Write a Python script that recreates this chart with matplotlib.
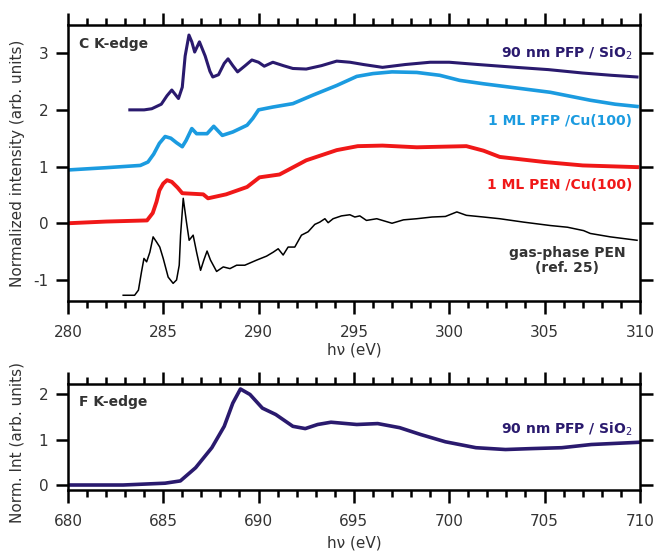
import matplotlib.pyplot as plt
from matplotlib.ticker import MultipleLocator

plt.rcParams['axes.unicode_minus'] = False

# C K-edge spectra (eV, normalized intensity)
pfp_sio2_x = [283.25, 284.0, 284.4, 284.9, 285.2, 285.45, 285.8, 286.0, 286.15, 286.35, 286.5, 286.65,
              286.9, 287.2, 287.45, 287.6, 287.9, 288.2, 288.4, 288.65, 288.9, 289.3, 289.65,
              290.0, 290.3, 290.75, 291.3, 291.8, 292.5, 293.3, 294.1, 294.8, 295.5,
              296.5, 297.7, 299.0, 300.0, 301.5, 303.5, 305.2, 307.0, 308.5, 309.85]
pfp_sio2_y = [2.0, 2.0, 2.02, 2.1, 2.25, 2.35, 2.2, 2.4, 2.95, 3.32, 3.2, 3.02,
              3.2, 2.95, 2.68, 2.58, 2.62, 2.82, 2.9, 2.78, 2.67, 2.78, 2.88,
              2.84, 2.77, 2.84, 2.78, 2.73, 2.72, 2.78, 2.86, 2.84, 2.8,
              2.75, 2.8, 2.84, 2.84, 2.8, 2.75, 2.71, 2.65, 2.61, 2.58]

pfp_cu_x = [280.0, 282.0, 283.8, 284.2, 284.5, 284.8, 285.1, 285.4, 285.7, 286.0, 286.2, 286.5,
            286.75, 287.3, 287.65, 288.1, 288.65, 289.4, 289.7, 290.0, 290.75, 291.8, 292.85,
            294.1, 295.15, 296.0, 297.0, 298.3, 299.5, 300.55, 301.8, 303.2, 305.3, 307.4,
            308.7, 309.85]
pfp_cu_y = [0.94, 0.98, 1.02, 1.08, 1.22, 1.41, 1.53, 1.5, 1.42, 1.35, 1.46, 1.67,
            1.58, 1.58, 1.71, 1.55, 1.61, 1.73, 1.85, 2.0, 2.05, 2.11, 2.26,
            2.43, 2.59, 2.64, 2.67, 2.66, 2.61, 2.52, 2.46, 2.4, 2.31, 2.17,
            2.1, 2.06]

pen_cu_x = [280.0, 282.0, 284.15, 284.45, 284.65, 284.8, 285.0, 285.2, 285.45, 285.75, 286.0,
            287.1, 287.35, 288.3, 289.4, 290.05, 291.1, 292.5, 294.1, 295.2, 296.5, 298.3,
            300.9, 301.8, 302.65, 305.0, 307.0, 309.85]
pen_cu_y = [0.0, 0.03, 0.05, 0.18, 0.38, 0.58, 0.7, 0.76, 0.73, 0.63, 0.53,
            0.51, 0.44, 0.51, 0.64, 0.81, 0.86, 1.11, 1.29, 1.36, 1.37, 1.34,
            1.36, 1.28, 1.17, 1.08, 1.02, 0.99]

gas_x = [282.9, 283.5, 283.7, 283.86, 283.99, 284.13, 284.3, 284.47, 284.65, 284.82, 285.0,
         285.26, 285.52, 285.7, 285.84, 285.91, 286.05, 286.22, 286.36, 286.57, 286.75, 286.96,
         287.13, 287.3, 287.48, 287.8, 288.15, 288.5, 288.85, 289.28, 289.9, 290.42, 290.77,
         291.03, 291.29, 291.55, 291.9, 292.25, 292.6, 292.95, 293.21, 293.48, 293.65, 293.91,
         294.35, 294.79, 295.05, 295.31, 295.66, 296.2, 297.0, 297.6, 298.3, 299.1, 299.8,
         300.4, 300.9, 301.8, 302.65, 303.9, 305.3, 306.2, 307.05, 307.4, 308.45, 309.85]
gas_y = [-1.27, -1.27, -1.18, -0.86, -0.62, -0.68, -0.51, -0.24, -0.33, -0.42, -0.62,
         -0.95, -1.06, -1.0, -0.74, -0.21, 0.44, 0.02, -0.3, -0.21, -0.51, -0.83,
         -0.65, -0.49, -0.65, -0.85, -0.77, -0.8, -0.74, -0.74, -0.65, -0.58, -0.51,
         -0.45, -0.56, -0.42, -0.42, -0.21, -0.15, -0.02, 0.02, 0.08, 0.01, 0.08,
         0.13, 0.15, 0.11, 0.13, 0.05, 0.08, 0.0, 0.06, 0.08, 0.11, 0.12,
         0.2, 0.14, 0.11, 0.08, 0.02, -0.04, -0.07, -0.13, -0.18, -0.24, -0.3]

# F K-edge spectrum
f_x = [680.0, 682.9, 685.1, 685.9, 686.7, 687.55, 688.2, 688.65, 689.05, 689.55, 690.2, 690.9,
       691.8, 692.45, 693.1, 693.8, 695.15, 696.25, 697.4, 698.5, 699.8, 701.4, 702.95, 704.3,
       705.9, 707.45, 710.0]
f_y = [0.0, 0.0, 0.04, 0.09, 0.38, 0.82, 1.29, 1.8, 2.11, 1.99, 1.69, 1.55,
       1.29, 1.24, 1.33, 1.38, 1.33, 1.35, 1.26, 1.11, 0.95, 0.82, 0.78, 0.80,
       0.82, 0.89, 0.94]

navy = '#2a1a6e'
sky = '#1b9be0'
red = '#f01818'
txt = '#333333'

fig = plt.figure(figsize=(6.59, 5.53), dpi=100)
ax1 = fig.add_axes([0.103, 0.4548, 0.868, 0.500])
ax2 = fig.add_axes([0.103, 0.1139, 0.868, 0.1917])

ax1.plot(pfp_sio2_x, pfp_sio2_y, color=navy, lw=2.2)
ax1.plot(pfp_cu_x, pfp_cu_y, color=sky, lw=2.6)
ax1.plot(pen_cu_x, pen_cu_y, color=red, lw=2.8)
ax1.plot(gas_x, gas_y, color='black', lw=1.1)
ax2.plot(f_x, f_y, color=navy, lw=2.6)

ax1.set_xlim(280, 310)
ax1.set_ylim(-1.38, 3.497)
ax2.set_xlim(680, 710)
ax2.set_ylim(-0.11, 2.22)

for ax in (ax1, ax2):
    ax.xaxis.set_major_locator(MultipleLocator(5))
    ax.xaxis.set_minor_locator(MultipleLocator(1))
    ax.yaxis.set_major_locator(MultipleLocator(1))
    ax.tick_params(which='both', direction='out', top=True, right=True,
                   width=1.8, colors='black', labelcolor=txt, labelsize=11)
    ax.tick_params(which='major', length=9, pad=5)
    ax.tick_params(which='minor', length=5)
    ax.tick_params(axis='x', which='major', pad=8)
    for s in ax.spines.values():
        s.set_linewidth(1.8)

ax1.set_xlabel('hν (eV)', fontsize=11, color=txt, labelpad=2)
ax2.set_xlabel('hν (eV)', fontsize=11, color=txt, labelpad=5)
ax1.set_ylabel('Normalized intensity (arb. units)', fontsize=11, color=txt)
ax2.set_ylabel('Norm. Int (arb. units)', fontsize=11, color=txt)
ax1.yaxis.set_label_coords(-0.075, 0.5)
ax2.yaxis.set_label_coords(-0.075, 0.45)

ax1.text(0.02, 0.93, 'C K-edge', transform=ax1.transAxes, fontsize=10,
         fontweight='bold', color=txt, va='center')
ax2.text(0.02, 0.83, 'F K-edge', transform=ax2.transAxes, fontsize=10,
         fontweight='bold', color=txt, va='center')

ax1.text(309.6, 3.0, '90 nm PFP / SiO$_2$', fontsize=10, fontweight='bold',
         color=navy, ha='right', va='center')
ax1.text(309.6, 1.8, '1 ML PFP /Cu(100)', fontsize=10, fontweight='bold',
         color=sky, ha='right', va='center')
ax1.text(309.6, 0.67, '1 ML PEN /Cu(100)', fontsize=10, fontweight='bold',
         color=red, ha='right', va='center')
ax1.text(306.2, -0.65, 'gas-phase PEN\n(ref. 25)', fontsize=10, fontweight='bold',
         color=txt, ha='center', va='center', linespacing=1.1)
ax2.text(709.6, 1.22, '90 nm PFP / SiO$_2$', fontsize=10, fontweight='bold',
         color=navy, ha='right', va='center')

fig.savefig('out.png', dpi=100)
